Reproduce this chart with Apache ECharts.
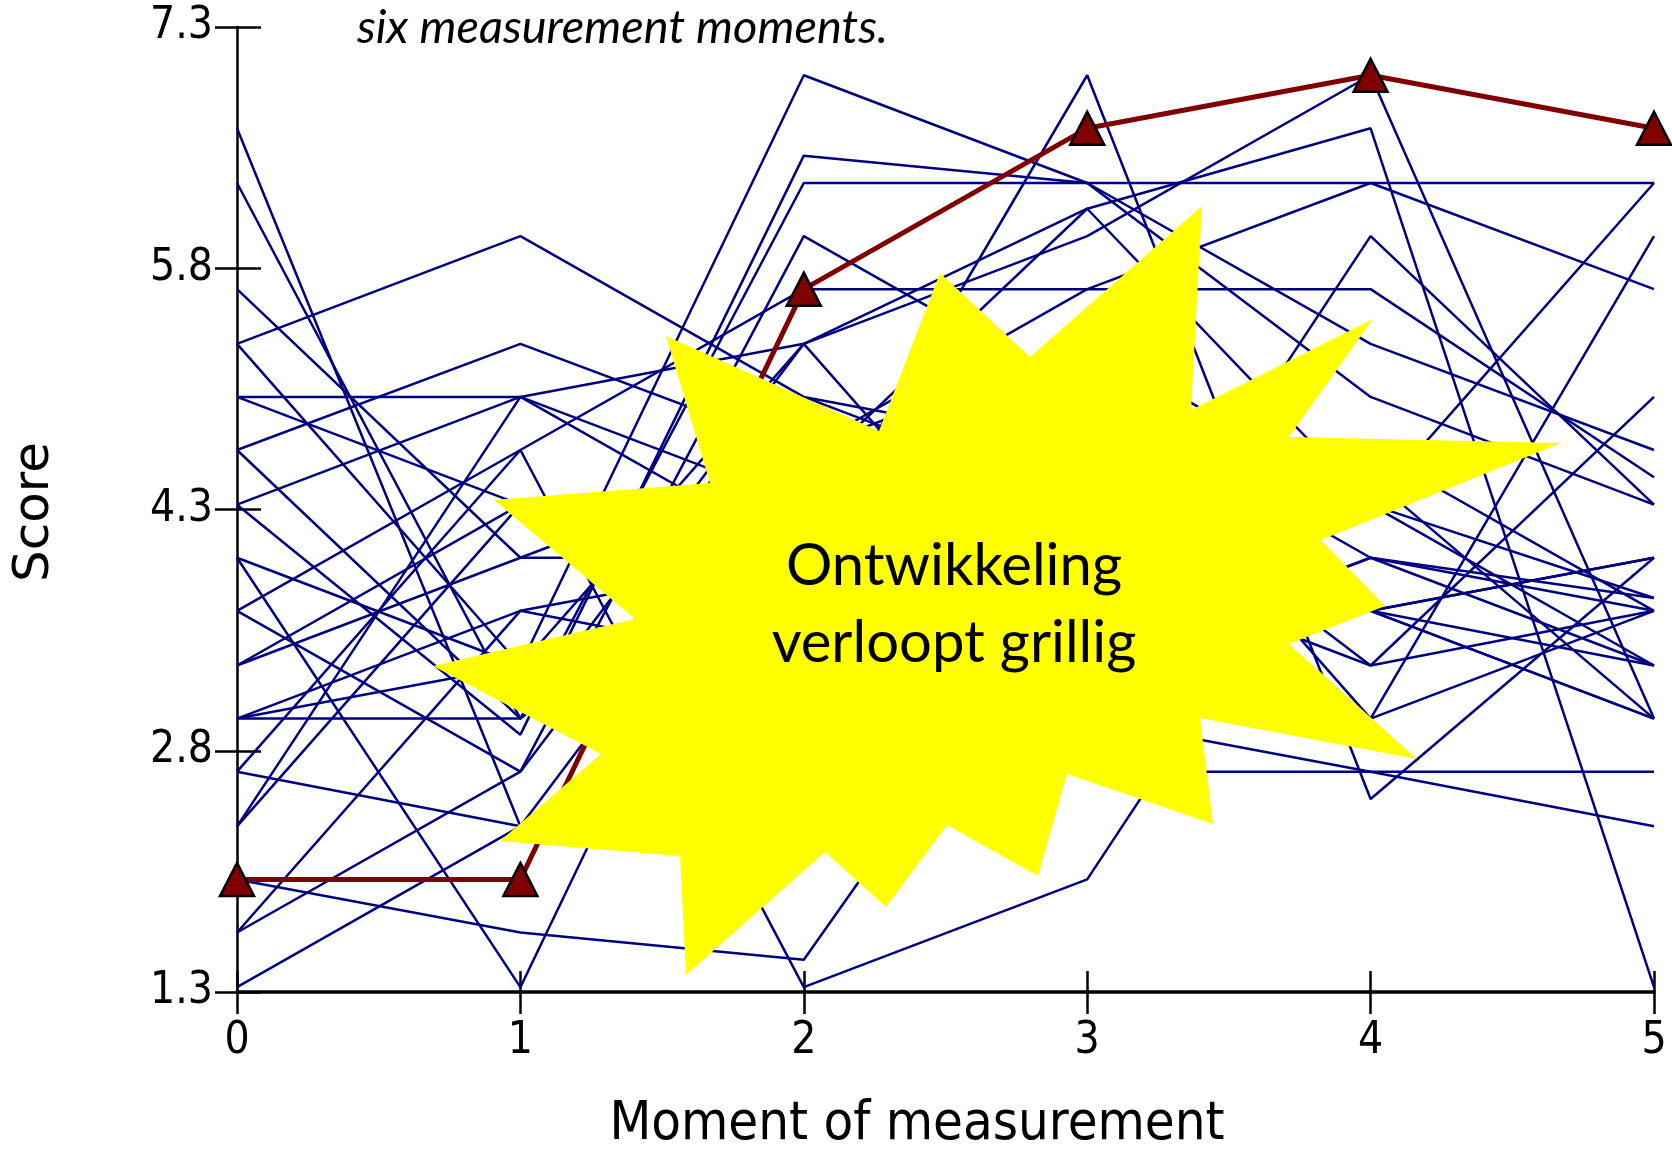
<!DOCTYPE html>
<html>
<head>
<meta charset="utf-8">
<script src="https://cdn.jsdelivr.net/npm/echarts@6/dist/echarts.min.js"></script>
<style>
  html, body { margin: 0; padding: 0; background: #fff; }
  #chart { width: 1672px; height: 1149px; }
</style>
</head>
<body>
<div id="chart"></div>
<script>
// measurement moments and y ticks
const moments = [0, 1, 2, 3, 4, 5];
const scoreTicks = [1.3, 2.8, 4.3, 5.8, 7.3];

// highlighted person (dark red, triangles)
const highlighted = [2.0, 2.0, 5.67, 6.67, 7.0, 6.67];

// individual trajectories (navy)
const p01 = [6.67, 2.33, 3.0, 4.33, 3.67, 3.33];
const p02 = [6.33, 3.0, 4.33, 5.0, 4.0, 3.67];
const p03 = [5.67, 4.0, 4.67, 3.67, 4.5, 3.0];
const p04 = [5.33, 6.0, 5.0, 4.33, 3.67, 4.0];
const p05 = [5.33, 3.33, 5.33, 3.33, 6.0, 4.33];
const p06 = [5.0, 5.0, 5.33, 6.17, 4.33, 6.33];
const p07 = [4.67, 5.33, 4.67, 5.67, 6.33, 5.67];
const p08 = [4.67, 3.0, 6.33, 6.33, 6.33, 6.33];
const p09 = [4.33, 2.9, 6.5, 6.33, 5.33, 4.67];
const p10 = [4.0, 3.33, 7.0, 6.33, 5.0, 4.33];
const p11 = [4.0, 1.33, 5.0, 4.67, 3.33, 5.0];
const p12 = [3.67, 4.67, 5.67, 5.67, 5.67, 4.5];
const p13 = [3.67, 2.67, 6.0, 5.0, 3.0, 6.0];
const p14 = [3.33, 4.0, 4.0, 7.0, 2.5, 4.0];
const p15 = [3.33, 4.33, 4.5, 6.17, 6.67, 1.33];
const p16 = [3.0, 3.0, 5.33, 6.0, 7.0, 3.0];
const p17 = [3.0, 3.67, 4.0, 2.67, 2.67, 2.67];
const p18 = [2.67, 4.67, 1.33, 2.0, 4.67, 3.67];
const p19 = [2.33, 5.0, 4.33, 4.0, 3.67, 3.0];
const p20 = [2.33, 4.33, 3.67, 3.33, 4.0, 3.75];
const p21 = [2.0, 1.67, 1.5, 4.0, 3.33, 3.67];
const p22 = [1.67, 2.67, 5.0, 3.0, 2.67, 2.33];
const p23 = [1.67, 3.67, 3.33, 4.67, 3.67, 3.0];
const p24 = [1.33, 2.33, 4.67, 5.33, 4.33, 3.33];
const p25 = [4.33, 5.0, 4.0, 3.67, 3.0, 3.67];
const p26 = [5.0, 4.33, 3.33, 4.33, 3.67, 4.0];
const p27 = [3.0, 3.33, 2.33, 3.33, 4.0, 3.33];
const p28 = [2.67, 2.33, 3.67, 4.67, 4.33, 3.75];
const individuals = [p01, p02, p03, p04, p05, p06, p07, p08, p09, p10, p11, p12, p13, p14,
  p15, p16, p17, p18, p19, p20, p21, p22, p23, p24, p25, p26, p27, p28];

const narrow = "'Liberation Sans Narrow', 'DejaVu Sans Condensed', sans-serif";

function pairs(values) {
  return moments.map((m, i) => [m, values[i]]);
}

const series = individuals.map((vals, i) => ({
  name: 'p' + (i + 1),
  type: 'line',
  data: pairs(vals),
  symbol: 'none',
  lineStyle: { color: '#000080', width: 2.5 },
  z: 2,
  silent: true
}));

series.push({
  name: 'highlighted',
  type: 'line',
  data: pairs(highlighted),
  symbol: 'triangle',
  symbolSize: [34, 33],
  itemStyle: { color: '#800000', borderColor: '#000', borderWidth: 2.5 },
  lineStyle: { color: '#800000', width: 5 },
  z: 3
});

const axisBase = {
  type: 'value',
  splitLine: { show: false },
  axisTick: { show: true, lineStyle: { color: '#000', width: 2.5 } }
};

// yellow "explosion" annotation
const starPoints = [
  [1202, 206], [1191, 410], [1373, 319], [1289, 437], [1561, 443], [1321, 540],
  [1385, 606], [1289, 644], [1417, 759], [1200, 718], [1213, 824], [1067, 774],
  [1038, 876], [947, 825], [886, 907], [825, 852], [686, 975], [680, 856],
  [500, 841], [601, 754], [433, 666], [635, 619], [494, 500], [710, 483],
  [666, 336], [879, 431], [940, 273], [1030, 357]
];

const chart = echarts.init(document.getElementById('chart'));
chart.setOption({
  animation: false,
  backgroundColor: '#ffffff',
  grid: { left: 237, right: 18, top: 27, bottom: 157 },
  xAxis: [
    Object.assign({}, axisBase, {
      min: 0, max: 5, interval: 1,
      axisLine: { show: true, lineStyle: { color: '#000', width: 3.5 } },
      axisTick: { show: true, inside: true, length: 21, lineStyle: { color: '#000', width: 2.5 } },
      axisLabel: { margin: 28, color: '#000', fontFamily: narrow, fontSize: 44 }
    }),
    Object.assign({}, axisBase, {
      min: 0, max: 5, interval: 1, position: 'bottom',
      axisLine: { show: false },
      axisTick: { show: true, inside: false, length: 22, lineStyle: { color: '#000', width: 2.5 } },
      axisLabel: { show: false }
    })
  ],
  yAxis: [
    Object.assign({}, axisBase, {
      min: scoreTicks[0], max: scoreTicks[scoreTicks.length - 1], interval: 1.5,
      axisLine: { show: true, lineStyle: { color: '#000', width: 2.5 } },
      axisTick: { show: true, inside: true, length: 24, lineStyle: { color: '#000', width: 2.5 } },
      axisLabel: {
        margin: 24, color: '#000', fontFamily: narrow, fontSize: 44,
        formatter: v => v.toFixed(1)
      }
    }),
    Object.assign({}, axisBase, {
      min: scoreTicks[0], max: scoreTicks[scoreTicks.length - 1], interval: 1.5, position: 'left',
      axisLine: { show: false },
      axisTick: { show: true, inside: false, length: 22, lineStyle: { color: '#000', width: 2.5 } },
      axisLabel: { show: false }
    })
  ],
  series: series,
  graphic: [
    {
      type: 'text', left: 357, top: 4, z: 10,
      style: { text: 'six measurement moments.', fill: '#000', font: 'italic 47px Lato, "Open Sans", sans-serif' }
    },
    {
      type: 'text', x: 917, y: 1125, z: 10,
      style: { text: 'Moment of measurement', fill: '#000', font: '54px ' + narrow, align: 'center', verticalAlign: 'middle' }
    },
    {
      type: 'text', x: 35, y: 512, rotation: Math.PI / 2, z: 10,
      style: { text: 'Score', fill: '#000', font: '50px "DejaVu Sans", sans-serif', align: 'center', verticalAlign: 'middle' }
    },
    {
      type: 'polygon', z: 20,
      shape: { points: starPoints },
      style: { fill: '#ffff00', stroke: null }
    },
    {
      type: 'text', x: 954, y: 605, z: 21,
      style: {
        text: 'Ontwikkeling\nverloopt grillig', fill: '#000',
        font: '58px Lato, "Open Sans", sans-serif', lineHeight: 77,
        align: 'center', verticalAlign: 'middle'
      }
    }
  ]
});
</script>
</body>
</html>
